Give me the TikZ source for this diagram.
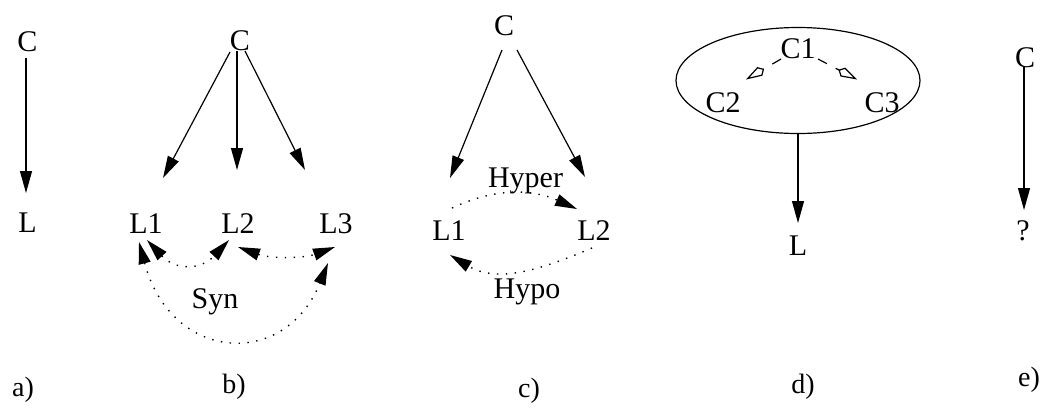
\documentclass[tikz,border=0pt]{standalone}
\usepackage{fontspec}
\setmainfont{Liberation Serif}
\usetikzlibrary{arrows.meta,shapes.geometric,calc}
\newcommand{\nfont}{\fontsize{30}{36}\selectfont}
\newcommand{\lfont}{\fontsize{28}{34}\selectfont}
\begin{document}
\begin{tikzpicture}[x=1pt,y=1pt,
  >={Triangle[length=22pt,width=12pt]},
  txt/.style={anchor=base, inner sep=0pt, font=\nfont},
  lab/.style={anchor=base, inner sep=0pt, font=\lfont},
  arr/.style={line width=1.2pt, ->},
  dotline/.style={line width=1.4pt, dash pattern=on 1.4pt off 7.5pt},
  dashline/.style={line width=1.2pt, dash pattern=on 10pt off 10pt,
    -{Kite[open, length=21pt, width=10pt, inset=5pt]}}]
\useasboundingbox (0,0) rectangle (1040,-408);

% a)
\node[txt] (aC) at (27.5,-51) {C};
\node[txt] (aL) at (27.5,-232) {L};
\draw[arr] ($(aC.base)+(-1.5,-7)$) -- ($(aL.base)+(-1.5,39)$);

% b)
\node[txt] (bC) at (240,-50) {C};
\node[txt] (bL1) at (146,-233) {L1};
\node[txt] (bL2) at (238,-233) {L2};
\node[txt] (bL3) at (336,-233) {L3};
\node[txt] (bSyn) at (215,-308) {Syn};
\draw[arr] ($(bC.base)+(-10,-2)$) -- ($(bL1.base)+(17,55)$);
\draw[arr] ($(bC.base)+(-3,-1)$) -- ($(bL2.base)+(-1,63)$);
\draw[arr] ($(bC.base)+(5,-1)$) -- ($(bL3.base)+(-31,63)$);
\draw[dotline,<->] ($(bL1.base)+(1,-7)$) to[out=-47,in=-133,looseness=1.3] ($(bL2.base)+(-9,-7)$);
\draw[dotline,<->] ($(bL2.base)+(0,-14)$) to[out=-20,in=-160,looseness=0.9] ($(bL3.base)+(-1,-14)$);
\draw[dotline,<->] ($(bL1.base)+(-7,-9)$) .. controls +(-75:125) and +(-112:115) .. ($(bL3.base)+(-8,-30)$);

% c)
\node[txt] (cC) at (504,-35) {C};
\node[txt] (cHyper) at (525.5,-187) {Hyper};
\node[txt] (cL1) at (449,-240) {L1};
\node[txt] (cL2) at (594,-240) {L2};
\node[txt] (cHypo) at (527,-298) {Hypo};
\draw[arr] ($(cC.base)+(-2,-15)$) -- ($(cL1.base)+(1,62)$);
\draw[arr] ($(cC.base)+(13,-15)$) -- ($(cL2.base)+(-9,63)$);
\draw[dotline,->] ($(cL1.base)+(3,32)$) to[out=25,in=156] ($(cL2.base)+(-17,31)$);
\draw[dotline,->] ($(cL2.base)+(-2,-8)$) to[out=-157,in=-31] ($(cL1.base)+(1,-15)$);

% d)
\node[draw, ellipse, line width=1.2pt, minimum width=244pt, minimum height=106pt, inner sep=0pt] (ell) at (798,-80.5) {};
\node[txt] (dC1) at (798,-58) {C1};
\node[txt] (dC2) at (723,-112) {C2};
\node[txt] (dC3) at (882,-112) {C3};
\node[txt] (dL) at (798,-255) {L};
\draw[dashline] ($(dC1.base)+(-17,-1)$) -- ($(dC2.base)+(23,32.5)$);
\draw[dashline] ($(dC1.base)+(20,-1)$) -- ($(dC3.base)+(-25,32.5)$);
\draw[arr] (ell.south) -- ($(dL.base)+(0,32)$);

% e)
\node[txt] (eC) at (1025,-67) {C};
\node[txt] (eQ) at (1023,-240) {?};
\draw[arr] ($(eC.base)+(-1,0)$) -- ($(eQ.base)+(1,30)$);

% labels
\node[lab] (la) at (23,-396) {a)};
\node[lab] (lb) at (234,-393) {b)};
\node[lab] (lc) at (529,-397) {c)};
\node[lab] (ld) at (803,-393) {d)};
\node[lab] (le) at (1029,-386) {e)};
\end{tikzpicture}
\end{document}
